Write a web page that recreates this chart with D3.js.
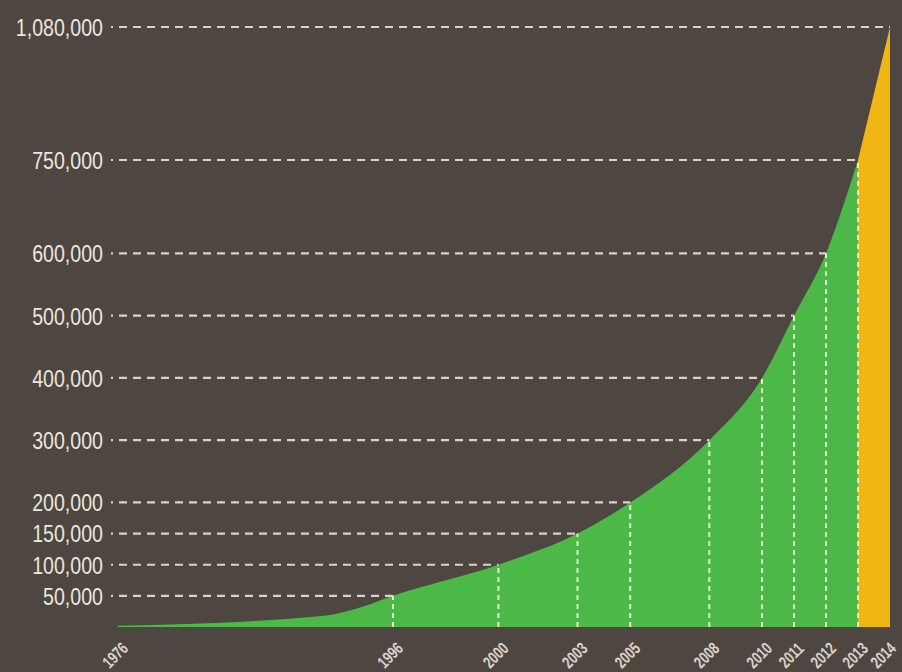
<!DOCTYPE html>
<html>
<head>
<meta charset="utf-8">
<script src="https://cdn.jsdelivr.net/npm/d3@7"></script>
<style>
  html, body { margin: 0; padding: 0; background: #4e4640; }
  svg { display: block; }
  .ylab { font-family: "Liberation Sans", Arial, sans-serif; font-size: 24.5px; fill: #ebe6de; }
  .xlab { font-family: "Liberation Sans", Arial, sans-serif; font-size: 17px; font-weight: bold; fill: #d8d3cb; }
</style>
</head>
<body>
<div id="chart"></div>
<script>
// yearly totals
var years  = [1976, 1991, 1994, 1996, 2000, 2003, 2005, 2008, 2010, 2011, 2012, 2013, 2014];
var totals = [2000, 18000, 34000, 50000, 100000, 150000, 200000, 300000, 400000, 500000, 600000, 750000, 1080000];

// labelled years on the bottom and the milestone lines
var tickYears = [1976, 1996, 2000, 2003, 2005, 2008, 2010, 2011, 2012, 2013, 2014];
var gridValues = [50000, 100000, 150000, 200000, 300000, 400000, 500000, 600000, 750000, 1080000];

var width = 902, height = 672;

var svg = d3.select('#chart').append('svg')
	.attr('width', width)
	.attr('height', height);

svg.append('rect').attr('width', width).attr('height', height).attr('fill', '#4e4640');

// the original axis is stretched in places, so both scales are piecewise
var x = d3.scaleLinear().domain([1976, 1996, 2010, 2014]).range([118, 393, 762, 890]);
var y = d3.scaleLinear().domain([0, 750000, 1080000]).range([627, 160, 27]);

var points = years.map(function(d, i) { return {year: d, value: totals[i]}; });
var green = points.filter(function(d) { return d.year <= 2013; });
var yellow = points.filter(function(d) { return d.year >= 2013; });

var area = d3.area()
	.x(function(d) { return x(d.year); })
	.y0(y(0))
	.y1(function(d) { return y(d.value); });

svg.append('path')
	.datum(green)
	.attr('fill', '#4cb848')
	.attr('d', area.curve(d3.curveMonotoneX));

svg.append('path')
	.datum(yellow)
	.attr('fill', '#f0b614')
	.attr('d', area.curve(d3.curveLinear));

//year at which each milestone was reached
function yearOf(v) {
	return years[totals.indexOf(v)];
}

//horizontal dashed lines, running in to the curve
svg.append('g').selectAll('line')
	.data(gridValues)
	.enter().append('line')
	.attr('x1', 111)
	.attr('x2', function(d) { return x(yearOf(d)); })
	.attr('y1', function(d) { return y(d); })
	.attr('y2', function(d) { return y(d); })
	.attr('stroke', '#d9d2c8')
	.attr('stroke-width', 2.2)
	.attr('stroke-dasharray', '8,6')
	.attr('stroke-dashoffset', 6);

//vertical dashed lines under each milestone
svg.append('g').selectAll('line')
	.data(gridValues.filter(function(d) { return yearOf(d) < 2014; }))
	.enter().append('line')
	.attr('x1', function(d) { return x(yearOf(d)); })
	.attr('x2', function(d) { return x(yearOf(d)); })
	.attr('y1', y(0))
	.attr('y2', function(d) { return y(d); })
	.attr('stroke', '#def3c6')
	.attr('stroke-width', 2)
	.attr('stroke-dasharray', '5,4');

//value labels (squeezed, the original face is condensed)
svg.append('g').selectAll('text')
	.data(gridValues)
	.enter().append('text')
	.attr('class', 'ylab')
	.attr('transform', function(d) { return 'translate(103,' + y(d) + ') scale(0.8,1)'; })
	.attr('dy', '0.36em')
	.attr('text-anchor', 'end')
	.text(function(d) { return d3.format(',')(d); });

//year labels, last one kept inside the frame
svg.append('g').selectAll('text')
	.data(tickYears)
	.enter().append('text')
	.attr('class', 'xlab')
	.attr('transform', function(d) { return 'translate(' + Math.min(x(d) - 3, 883) + ',655) rotate(-45) scale(0.74,1)'; })
	.attr('text-anchor', 'middle')
	.attr('dy', '0.36em')
	.text(function(d) { return d; });
</script>
</body>
</html>
